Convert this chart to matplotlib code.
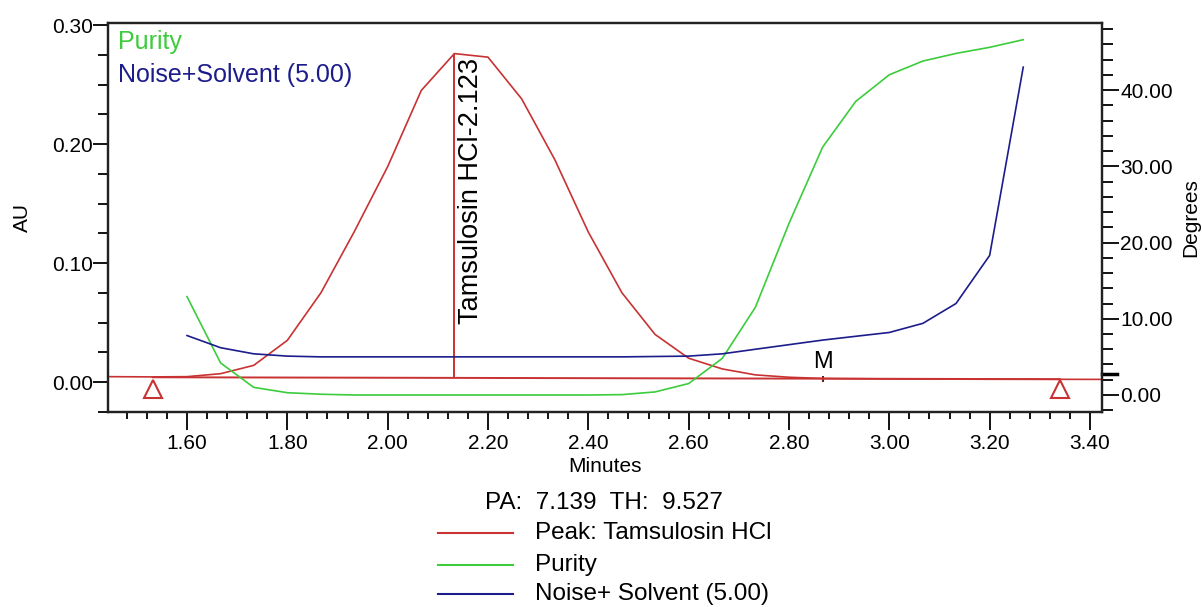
import matplotlib
matplotlib.use('Agg')
import matplotlib.pyplot as plt
from matplotlib.lines import Line2D
from matplotlib.ticker import MultipleLocator, FormatStrFormatter
import matplotlib.transforms as mtransforms

plt.rcParams['font.family'] = ['Liberation Sans', 'DejaVu Sans']

# sample times (minutes)
times = [1.600, 1.667, 1.733, 1.800, 1.867, 1.933, 2.000, 2.067, 2.133, 2.200,
         2.267, 2.333, 2.400, 2.467, 2.533, 2.600, 2.667, 2.733, 2.800, 2.867,
         2.933, 3.000, 3.067, 3.133, 3.200, 3.267]

# chromatogram trace (AU), over the full window
peakTimes = [1.443, 1.533] + times + [3.424]
peakAU = [0.0045, 0.0043,
          0.0045, 0.007, 0.014, 0.035, 0.075, 0.126, 0.181, 0.245, 0.276, 0.273,
          0.238, 0.187, 0.126, 0.075, 0.040, 0.020, 0.011, 0.006, 0.004, 0.003,
          0.0028, 0.0026, 0.0025, 0.0024, 0.0023, 0.0023,
          0.0022]

# purity angle and noise+solvent threshold (degrees)
purity = [12.9, 4.2, 1.0, 0.3, 0.1, 0.0, 0.0, 0.0, 0.0, 0.0,
          0.0, 0.0, 0.0, 0.05, 0.4, 1.5, 4.8, 11.5, 22.5, 32.5,
          38.5, 42.0, 43.8, 44.8, 45.6, 46.6]
noise = [7.8, 6.2, 5.4, 5.1, 5.0, 5.0, 5.0, 5.0, 5.0, 5.0,
         5.0, 5.0, 5.0, 5.0, 5.05, 5.1, 5.4, 6.0, 6.6, 7.2,
         7.7, 8.2, 9.4, 12.0, 18.3, 43.0]

peakRT = 2.133
peakTop = 0.276
peakLabel = 'Tamsulosin HCl-2.123'
startEnd = [1.532, 3.340]
baseAU = [0.0040, 0.0024]
markTime = 2.868

red = '#c83232'
green = '#3ccc3c'
blue = '#1c1c8c'

fig = plt.figure(figsize=(12.02, 6.07), dpi=100)
ax = fig.add_axes([108/1202, 1-412/607, 994/1202, 389/607])
ax2 = ax.twinx()

ax.plot(peakTimes, peakAU, c=red, lw=1.2, zorder=3)
ax.plot(startEnd, baseAU, c=red, lw=1.4, zorder=3)
ax.vlines(peakRT, baseAU[0], peakTop, colors=red, lw=1.4, zorder=3)
ax.plot(startEnd, [-0.0059, -0.0059], ls='none', marker='^', ms=13,
        mfc='none', mec=red, mew=1.5, zorder=4)
ax.plot([markTime], [0.0028], ls='none', marker='|', ms=5, mec='#602020', mew=1.5)
ax.text(markTime, 0.0172, 'M', fontsize=17, ha='center', va='center')
ax.text(2.140, 0.2725, peakLabel, rotation=90, fontsize=19.5, ha='left', va='top')

ax2.plot(times, purity, c=green, lw=1.2)
ax2.plot(times, noise, c=blue, lw=1.2)

ax.set_xlim(1.4425, 3.424)
ax.set_ylim(-0.0252, 0.3017)
ax2.set_ylim(-2.23, 48.79)

ax.xaxis.set_major_locator(MultipleLocator(0.2))
ax.xaxis.set_minor_locator(MultipleLocator(0.04))
ax.yaxis.set_major_locator(MultipleLocator(0.1))
ax.yaxis.set_minor_locator(MultipleLocator(0.025))
ax2.yaxis.set_major_locator(MultipleLocator(10))
ax2.yaxis.set_minor_locator(MultipleLocator(2))
ax.xaxis.set_major_formatter(FormatStrFormatter('%.2f'))
ax.yaxis.set_major_formatter(FormatStrFormatter('%.2f'))
ax2.yaxis.set_major_formatter(FormatStrFormatter('%.2f'))

ax.tick_params(axis='x', which='major', length=13, width=1.3, labelsize=15, pad=3)
ax.tick_params(axis='x', which='minor', length=5, width=1.3)
ax.tick_params(axis='y', which='major', length=11, width=1.3, labelsize=15, pad=0)
ax.tick_params(axis='y', which='minor', length=7, width=1.3)
ax2.tick_params(axis='y', which='major', length=12, width=1.3, labelsize=15, pad=1)
ax2.tick_params(axis='y', which='minor', length=8, width=1.3)

for a in (ax, ax2):
    for s in a.spines.values():
        s.set_linewidth(1.6)
        s.set_color('#222222')

# threshold mark on the right axis
tr = mtransforms.blended_transform_factory(ax2.transAxes, ax2.transData)
ax2.plot([1.0, 1.015], [2.8, 2.8], transform=tr, clip_on=False, c='black', lw=2.5)

ax.set_ylabel('AU', fontsize=15)
ax.yaxis.set_label_coords(-0.0765, 0.5)
ax2.set_ylabel('Degrees', fontsize=15)
ax2.yaxis.set_label_coords(1.0795, 0.5)

ax.text(0.010, 0.951, 'Purity', transform=ax.transAxes, color=green,
        fontsize=18, ha='left', va='center')
ax.text(0.010, 0.866, 'Noise+Solvent (5.00)', transform=ax.transAxes, color=blue,
        fontsize=18, ha='left', va='center')

W, H = 1202, 607
fig.text(605/W, 1-466/H, 'Minutes', fontsize=15, ha='center', va='center')
fig.text(604/W, 1-503/H, 'PA:  7.139  TH:  9.527', fontsize=17.5, ha='center', va='center')
legendNames = ['Peak: Tamsulosin HCl', 'Purity', 'Noise+ Solvent (5.00)']
legendColors = [red, green, blue]
rowsY = [533, 565, 594]
for name, col, yy in zip(legendNames, legendColors, rowsY):
    fig.add_artist(Line2D([438/W, 513/W], [1-yy/H, 1-yy/H], color=col, lw=1.5))
    fig.text(535/W, 1-yy/H, name, fontsize=17.5, ha='left', va='center')

fig.savefig('out.png', dpi=100)
